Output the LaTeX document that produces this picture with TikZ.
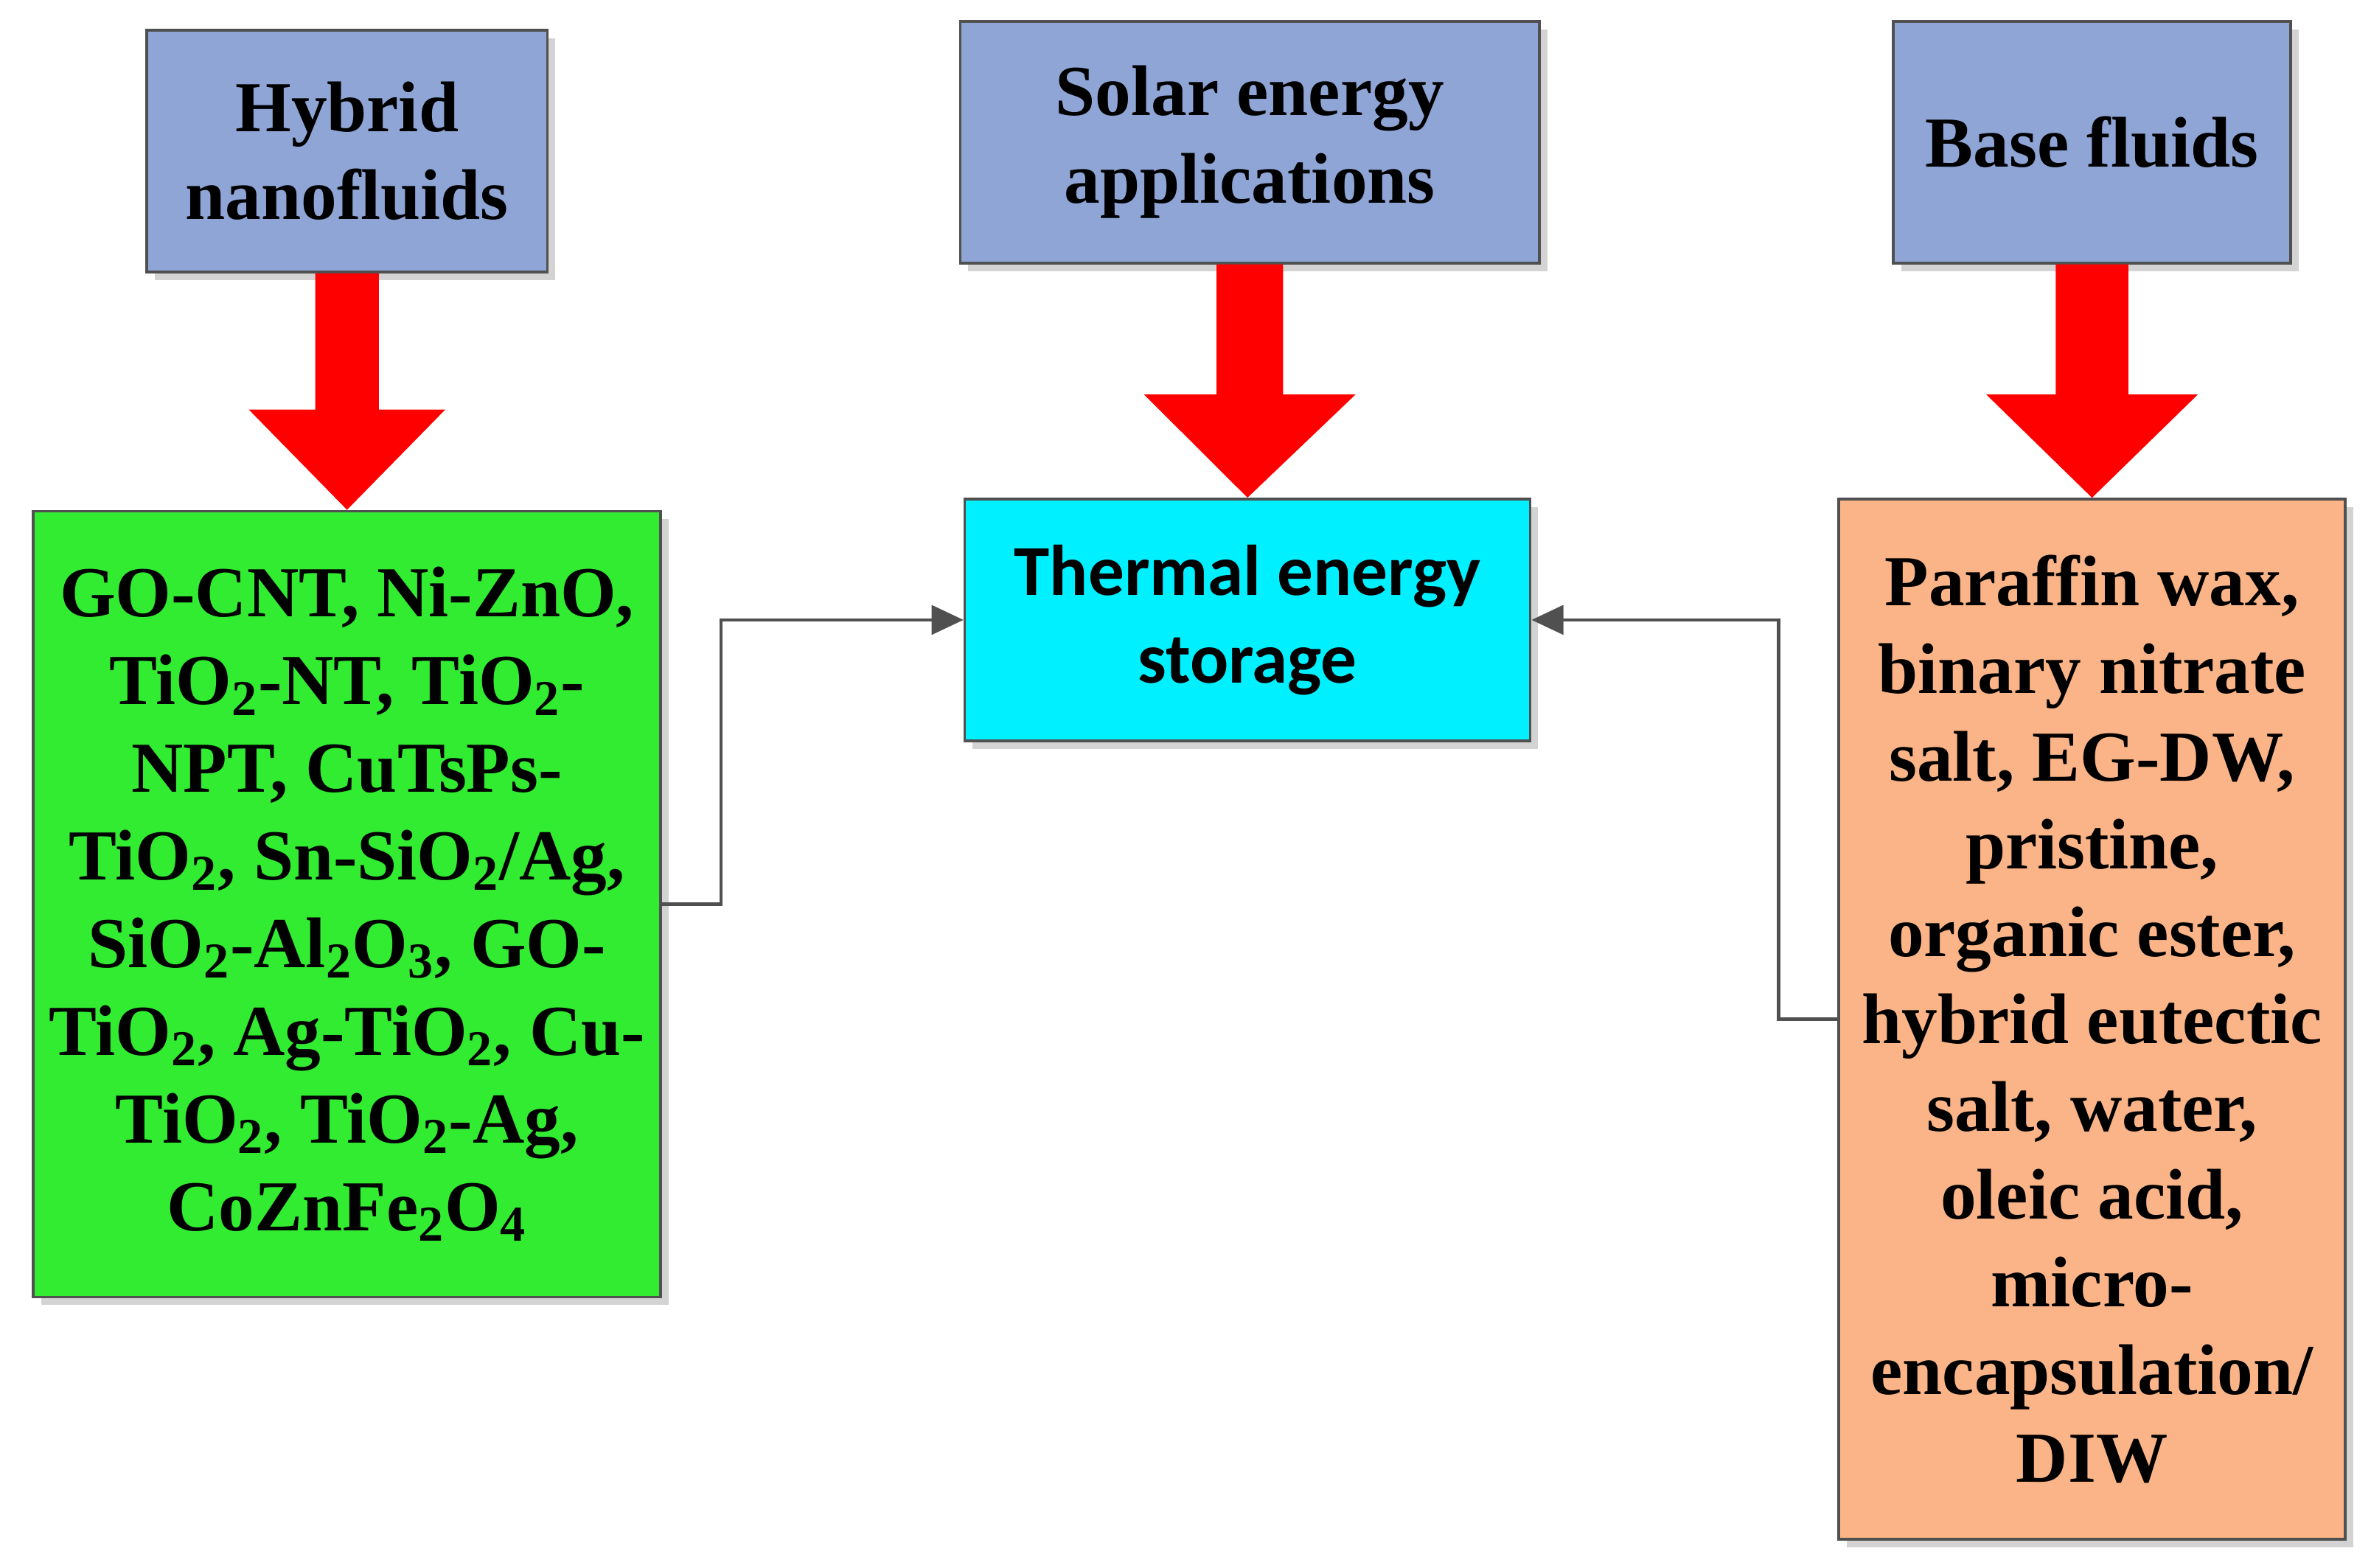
\documentclass[tikz,border=0pt]{standalone}
\usepackage{fontspec}
\setmainfont{Liberation Serif}
\newfontfamily\calib{Carlito}
\usetikzlibrary{calc,shadows,arrows.meta}
\definecolor{topblue}{RGB}{142,165,214}
\definecolor{greenbox}{RGB}{50,236,50}
\definecolor{cyanbox}{RGB}{0,240,255}
\definecolor{orangebox}{RGB}{250,180,135}
\definecolor{edge}{RGB}{80,80,80}
\tikzset{
  box/.style={draw=edge,line width=1pt,align=center,inner sep=4pt,
    font=\fontsize{27}{33}\selectfont\bfseries,
    drop shadow={shadow xshift=3pt,shadow yshift=-3pt,opacity=0.35}},
  redarrow/.style={fill=red,draw=none},
  conn/.style={draw=edge,line width=1.2pt,-{Triangle[length=12pt,width=11pt]}}
}
\begin{document}
\begin{tikzpicture}[x=0.02cm,y=-0.02cm]
\useasboundingbox (0,0) rectangle (1568,1037);
\node[box,fill=topblue,minimum width=5.3cm,minimum height=3.2cm] (hyb) at (229.5,100) {Hybrid\\nanofluids};
\node[box,fill=topblue,minimum width=7.66cm,minimum height=3.2cm] (sol) at (826.5,94) {Solar energy\\applications};
\node[box,fill=topblue,minimum width=5.26cm,minimum height=3.2cm] (base) at (1383.5,94) {Base fluids};
\node[box,fill=greenbox,minimum width=8.3cm,minimum height=10.4cm] (grn) at (229.5,598) {GO-CNT, Ni-ZnO,\\TiO\textsubscript{2}-NT, TiO\textsubscript{2}-\\NPT, CuTsPs-\\TiO\textsubscript{2}, Sn-SiO\textsubscript{2}/Ag,\\SiO\textsubscript{2}-Al\textsubscript{2}O\textsubscript{3}, GO-\\TiO\textsubscript{2}, Ag-TiO\textsubscript{2}, Cu-\\TiO\textsubscript{2}, TiO\textsubscript{2}-Ag,\\CoZnFe\textsubscript{2}O\textsubscript{4}};
\node[box,fill=cyanbox,minimum width=7.48cm,minimum height=3.2cm,font=\calib\fontsize{27}{33}\selectfont\bfseries] (tes) at (825,410) {Thermal energy\\storage};
\node[box,fill=orangebox,minimum width=6.7cm,minimum height=13.76cm] (org) at (1383.5,674) {Paraffin wax,\\binary nitrate\\salt, EG-DW,\\pristine,\\organic ester,\\hybrid eutectic\\salt, water,\\oleic acid,\\micro-\\encapsulation/\\DIW};
% red arrows
\fill[redarrow] ($(hyb.south)+(-21,0)$) -- ($(hyb.south)+(21,0)$) -- ($(hyb.south)+(21,90)$) -- ($(hyb.south)+(65,90)$) -- (grn.north) -- ($(hyb.south)+(-65,90)$) -- ($(hyb.south)+(-21,90)$) -- cycle;
\fill[redarrow] ($(sol.south)+(-22,0)$) -- ($(sol.south)+(22,0)$) -- ($(sol.south)+(22,86)$) -- ($(sol.south)+(70,86)$) -- (tes.north) -- ($(sol.south)+(-70,86)$) -- ($(sol.south)+(-22,86)$) -- cycle;
\fill[redarrow] ($(base.south)+(-24,0)$) -- ($(base.south)+(24,0)$) -- ($(base.south)+(24,86)$) -- ($(base.south)+(70,86)$) -- (org.north) -- ($(base.south)+(-70,86)$) -- ($(base.south)+(-24,86)$) -- cycle;
% connectors
\draw[conn] (grn.east) -- ++(39,0) |- (tes.west);
\draw[conn] (org.west) -- ++(-39,0) |- (tes.east);
\end{tikzpicture}
\end{document}
